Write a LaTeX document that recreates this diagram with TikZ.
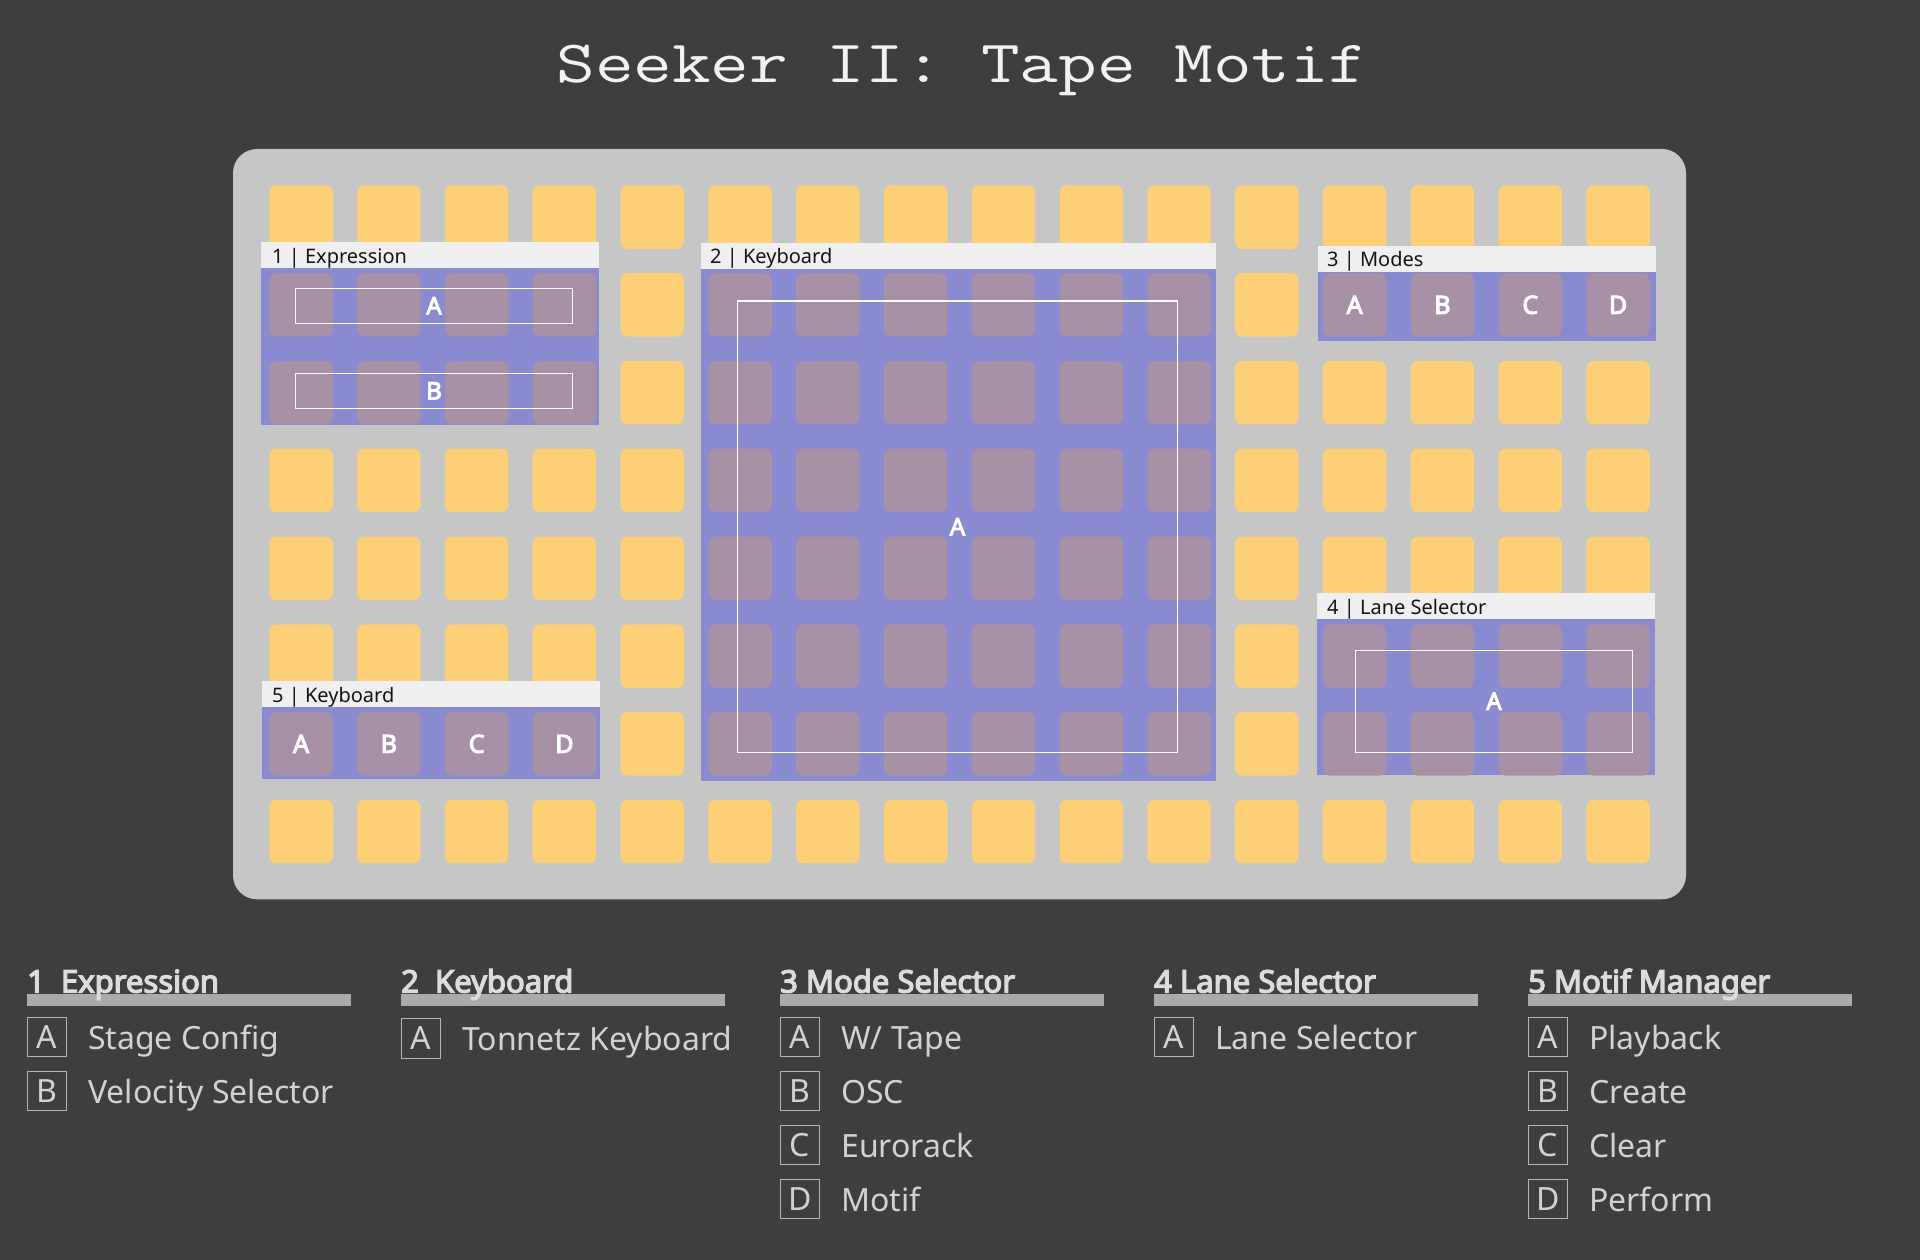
\documentclass[tikz,border=0pt]{standalone}
\usepackage{fontspec}
\setmainfont{Noto Sans}
\newfontfamily\hboldfont{Noto Sans}[FakeBold=4.2]
\usepackage{graphicx}
\definecolor{bgc}{HTML}{3E3E3E}
\definecolor{panelc}{HTML}{C6C6C6}
\definecolor{padc}{HTML}{FDD077}
\definecolor{barc}{HTML}{EFEFEF}
\definecolor{bluec}{HTML}{8A8AD0}
\definecolor{coverc}{HTML}{A78FA6}
\definecolor{legtext}{HTML}{D2D2D2}
\definecolor{leghead}{HTML}{DCDCDC}
\definecolor{legbar}{HTML}{AAAAAA}
\definecolor{legbox}{HTML}{B4B4B4}
\tikzset{
  pad/.style={fill=padc, rounded corners=7pt, minimum width=63.5pt, minimum height=63.5pt, inner sep=0pt},
  cpad/.style={pad, fill=coverc, text=white, font=\fontsize{25}{25}\hboldfont},
  zone/.style={fill=bluec},
  zbar/.style={fill=barc},
  ztext/.style={anchor=base west, inner sep=0pt, text=black!92, font=\fontsize{20}{24}\selectfont},
  ibox/.style={draw=white, line width=1.3pt, inner sep=0pt, text=white, font=\fontsize{24}{24}\hboldfont},
  lhead/.style={anchor=base west, inner sep=0pt, text=leghead, font=\fontsize{31}{34}\hboldfont},
  lbar/.style={fill=legbar},
  lbox/.style={draw=legbox, line width=1pt, minimum size=39.4pt, inner sep=0pt, text=legtext, font=\fontsize{32}{36}\selectfont},
  litem/.style={anchor=base west, inner sep=0pt, text=legtext, font=\fontsize{32}{36}\selectfont},
  titlest/.style={anchor=base, inner sep=0pt, text=white!95!black, font=\fontsize{60}{60}\selectfont\ttfamily}
}
\begin{document}
\begin{tikzpicture}[x=1pt,y=-1pt]
\fill[bgc] (0,0) rectangle (1920,1260);
\useasboundingbox (0,0) rectangle (1920,1260);

% title
\node[titlest] (title) at (962,82.7) {\scalebox{1.25}[1]{Seeker II: Tape Motif}};

% panel
\fill[panelc, rounded corners=24pt] (233,149) rectangle (1686,899.3);

% all pads
\foreach \c in {0,...,15}
  \foreach \r in {0,...,7}
    \node[pad] (p\c-\r) at ({301.05+87.8*\c},{217.05+87.8*\r}) {};

% ---- section 1: Expression
\fill[zone] (261,268.3) rectangle (599,425);
\foreach \c in {0,...,3}
  \foreach \r in {1,2}
    \node[cpad] (e\c-\r) at ({301.05+87.8*\c},{217.05+87.8*\r}) {};
\fill[zbar] (261,242.3) rectangle (599,268.3);
\node[ztext] (t1) at (272,263.3) {1 | Expression};
\node[ibox, minimum width=277.4pt, minimum height=35pt] (e-a) at (434,305.8) {A};
\node[ibox, minimum width=277.4pt, minimum height=35pt] (e-b) at (434,390.8) {B};

% ---- section 2: Keyboard
\fill[zone] (701,269) rectangle (1216,780.7);
\foreach \c in {5,...,10}
  \foreach \r in {1,...,6}
    \node[cpad] (k\c-\r) at ({301.05+87.8*\c},{217.05+87.8*\r}) {};
\fill[zbar] (701,243.3) rectangle (1216,269);
\node[ztext] (t2) at (710,264) {2 | Keyboard};
\node[ibox, minimum width=440.4pt, minimum height=451.3pt] (k-a) at (957.5,526.65) {A};

% ---- section 3: Modes
\fill[zone] (1318,272) rectangle (1656,340.7);
\foreach \c/\l in {12/A,13/B,14/C,15/D}
  \node[cpad] (m\c) at ({301.05+87.8*\c},{217.05+87.8}) {\l};
\fill[zbar] (1318,246) rectangle (1656,272);
\node[ztext] (t3) at (1327,266.7) {3 | Modes};

% ---- section 4: Lane Selector
\fill[zone] (1317,619) rectangle (1655,775);
\foreach \c in {12,...,15}
  \foreach \r in {5,6}
    \node[cpad] (l\c-\r) at ({301.05+87.8*\c},{217.05+87.8*\r}) {};
\fill[zbar] (1317,593.3) rectangle (1655,619);
\node[ztext] (t4) at (1327,614) {4 | Lane Selector};
\node[ibox, minimum width=277.4pt, minimum height=102pt] (l-a) at (1494,701.3) {A};

% ---- section 5: Keyboard
\fill[zone] (262,707) rectangle (600,778.7);
\foreach \c/\l in {0/A,1/B,2/C,3/D}
  \node[cpad] (f\c) at ({301.05+87.8*\c},{217.05+87.8*6}) {\l};
\fill[zbar] (262,681) rectangle (600,707);
\node[ztext] (t5) at (272,702) {5 | Keyboard};

% ---- legend
\foreach \x/\h [count=\i] in {27/{1\ \ Expression},401/{2\ \ Keyboard},780/{3 Mode Selector},1154/{4 Lane Selector},1528/{5 Motif Manager}}{
  \fill[lbar] (\x,993.5) rectangle ({\x+324},1005.5);
  \node[lhead] (h\i) at (\x,992.5) {\h};
}
% column 1
\foreach \k/\l/\t in {0/A/{Stage Config},1/B/{Velocity Selector}}{
  \node[lbox] (a\l) at (46.7,{1037+54*\k}) {\l};
  \node[litem] (at\l) at (88,{1049.3+54*\k}) {\t};
}
% column 2
\node[lbox] (bA) at (420.7,1038.5) {A};
\node[litem] (btA) at (462,1050.8) {Tonnetz Keyboard};
% column 3
\foreach \k/\l/\t in {0/A/{W/ Tape},1/B/{OSC},2/C/{Eurorack},3/D/{Motif}}{
  \node[lbox] (c\l) at (799.7,{1037+54*\k}) {\l};
  \node[litem] (ct\l) at (841,{1049.3+54*\k}) {\t};
}
% column 4
\node[lbox] (dA) at (1173.7,1037) {A};
\node[litem] (dtA) at (1215,1049.3) {Lane Selector};
% column 5
\foreach \k/\l/\t in {0/A/{Playback},1/B/{Create},2/C/{Clear},3/D/{Perform}}{
  \node[lbox] (g\l) at (1547.7,{1037+54*\k}) {\l};
  \node[litem] (gt\l) at (1589,{1049.3+54*\k}) {\t};
}
\end{tikzpicture}
\end{document}
